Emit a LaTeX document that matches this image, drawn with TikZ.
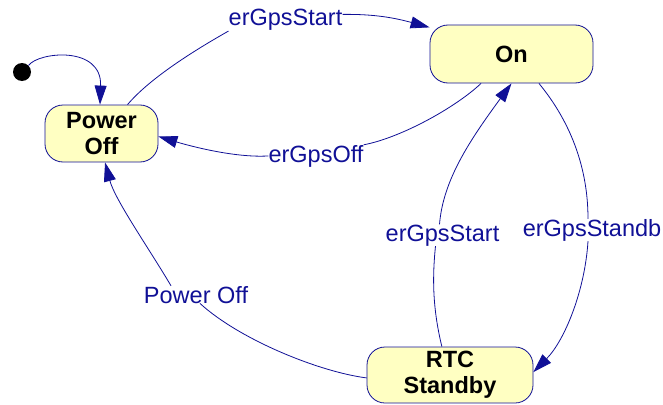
\documentclass[tikz,border=0pt]{standalone}
\usepackage{fontspec}
\setmainfont{Liberation Sans}
\usetikzlibrary{positioning,arrows.meta}
\definecolor{trblue}{RGB}{16,16,150}
\definecolor{stfill}{RGB}{255,255,194}
\tikzstyle{state}=[draw=trblue, fill=stfill, rounded corners=18pt, inner sep=0pt, align=center, line width=0.8pt, font=\fontsize{23.5}{26}\selectfont\bfseries]
\tikzstyle{init}=[circle, fill=black, minimum size=18pt, inner sep=0pt]
\tikzstyle{trans}=[draw=trblue, line width=0.8pt]
\tikzstyle{tip}=[-{Triangle[length=19pt,width=12pt]}]
\tikzstyle{lbl}=[text=trblue, inner sep=0pt, anchor=base, font=\fontsize{23.5}{26}\selectfont]

\begin{document}
\begin{tikzpicture}[x=1pt,y=-1pt]
	\useasboundingbox (0,0) rectangle (663,404);
	% states
	\node[init] (start) at (22,72) {};
	\node[state, minimum width=113pt, minimum height=57pt] (off) at (101.5,133.5) {Power\\Off};
	\node[state, minimum width=163pt, minimum height=58pt] (on) at (511.5,54) {On};
	\node[state, minimum width=166pt, minimum height=56pt] (rtc) at (450,375) {RTC\\Standby};
	% labels
	\node[lbl] (startA) at (285.5,26) {erGpsStart};
	\node[lbl] (gpsoff) at (316,162) {erGpsOff};
	\node[lbl] (startB) at (442.5,241) {erGpsStart};
	\node[lbl] (standb) at (592,236) {erGpsStandb};
	\node[lbl] (pwroff) at (196,303) {Power Off};
	% transitions
	\draw[trans,tip] (start.45) .. controls (38,52) and (102,45) .. (off.93);
	\draw[trans] (off.48) .. controls (150,78) and (195,50) .. (startA.south west);
	\draw[trans,tip] ([yshift=-5pt]startA.north east) .. controls (375,14) and (395,18) .. (on.162);
	\draw[trans] (on.224) .. controls (455,108) and (400,138) .. (gpsoff.north east);
	\draw[trans,tip] (gpsoff.west) .. controls (235,158) and (190,146) .. (off.-3);
	\draw[trans] (rtc.106) .. controls (433,310) and (432,280) .. ([xshift=-7pt]startB.south);
	\draw[trans,tip] ([xshift=-3pt]startB.north) .. controls (443,180) and (470,140) .. (on.south);
	\draw[trans] (on.313) .. controls (565,115) and (588,160) .. ([xshift=-4pt]standb.north);
	\draw[trans,tip] ([xshift=-4pt]standb.south) .. controls (585,290) and (565,340) .. (rtc.2);
	\draw[trans] (rtc.182) .. controls (320,372) and (240,340) .. ([xshift=4pt]pwroff.south);
	\draw[trans,tip] ([xshift=-25pt]pwroff.north) .. controls (150,250) and (115,200) .. (off.277);
\end{tikzpicture}
\end{document}
